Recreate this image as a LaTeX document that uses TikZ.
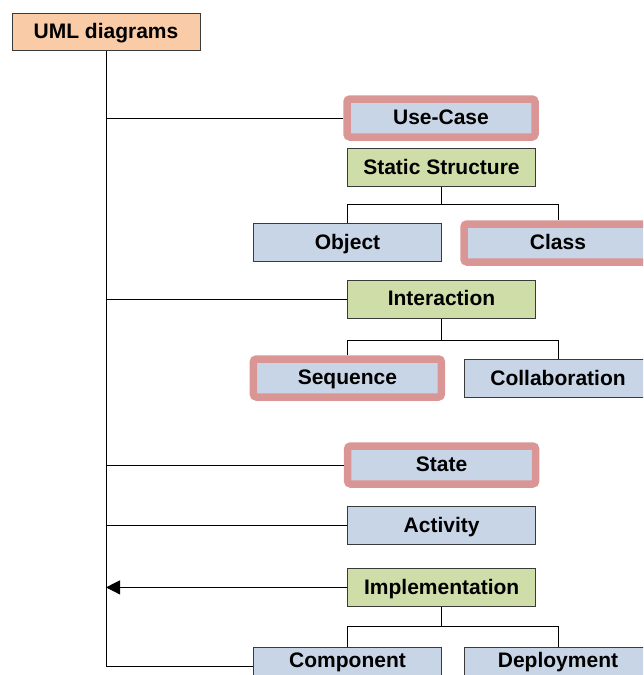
\documentclass[tikz,border=0pt]{standalone}
\usepackage{fontspec}
\setmainfont{Liberation Sans}
\usetikzlibrary{arrows.meta}
\definecolor{peachfill}{HTML}{F9CBA6}
\definecolor{bluefill}{HTML}{C8D5E6}
\definecolor{greenfill}{HTML}{CFDDA9}
\definecolor{hired}{HTML}{D99694}
\definecolor{boxline}{HTML}{3A3A3A}
\begin{document}
\begin{tikzpicture}[x=1pt,y=-1pt,
  box/.style={draw=boxline, line width=1pt, minimum width=188pt, minimum height=38pt,
    inner sep=0pt, text height=15pt, text depth=1.5pt,
    font=\fontsize{21}{24}\selectfont\bfseries},
  rootbox/.style={box, fill=peachfill, minimum height=37pt},
  bluebox/.style={box, fill=bluefill},
  greenbox/.style={box, fill=greenfill},
  hilite/.style={box, fill=bluefill, draw=hired, line width=7.5pt, rounded corners=3pt},
  hightext/.style={text depth=14pt},
  conn/.style={draw=black, line width=0.9pt}]
\useasboundingbox (0,0) rectangle (643,675);
\clip (0,0) rectangle (643,675);

% nodes
\node[rootbox]  (uml)    at (106,31.5)   {UML diagrams};
\node[hilite]   (usec)   at (441,118)    {Use-Case};
\node[greenbox] (stat)   at (441.5,167.5){Static Structure};
\node[bluebox]  (obj)    at (347.5,242.5){Object};
\node[hilite]   (cls)    at (558,243)    {Class};
\node[greenbox] (inter)  at (441.5,299)  {Interaction};
\node[hilite]   (seq)    at (347.4,378)  {Sequence};
\node[bluebox]  (coll)   at (558,378.3)  {Collaboration};
\node[hilite]   (state)  at (441.6,465)  {State};
\node[bluebox]  (act)    at (441.6,525.5){Activity};
\node[greenbox] (impl)   at (441.7,587.4){Implementation};
\node[bluebox, hightext] (comp) at (347.5,666.5){Component};
\node[bluebox, hightext] (depl) at (558,666.5)  {Deployment};

% trunk and branches
\draw[conn] (uml.south) |- (comp.west);
\draw[conn] (uml.south |- usec.west) -- (usec.west);
\draw[conn] (uml.south |- inter.west) -- (inter.west);
\draw[conn] (uml.south |- state.west) -- (state.west);
\draw[conn] (uml.south |- act.west) -- (act.west);
\draw[conn, -{Triangle[length=14pt,width=14pt]}] (impl.west) -- (uml.south |- impl.west);

% sub-trees
\coordinate (sj) at (441.5,204.3);
\draw[conn] (stat.south) -- (sj);
\draw[conn] (obj.north) |- (sj) -| (cls.north);
\coordinate (ij) at (441.5,340.7);
\draw[conn] (inter.south) -- (ij);
\draw[conn] (seq.north) |- (ij) -| (coll.north);
\coordinate (mj) at (441.7,626.3);
\draw[conn] (impl.south) -- (mj);
\draw[conn] (comp.north) |- (mj) -| (depl.north);
\end{tikzpicture}
\end{document}
